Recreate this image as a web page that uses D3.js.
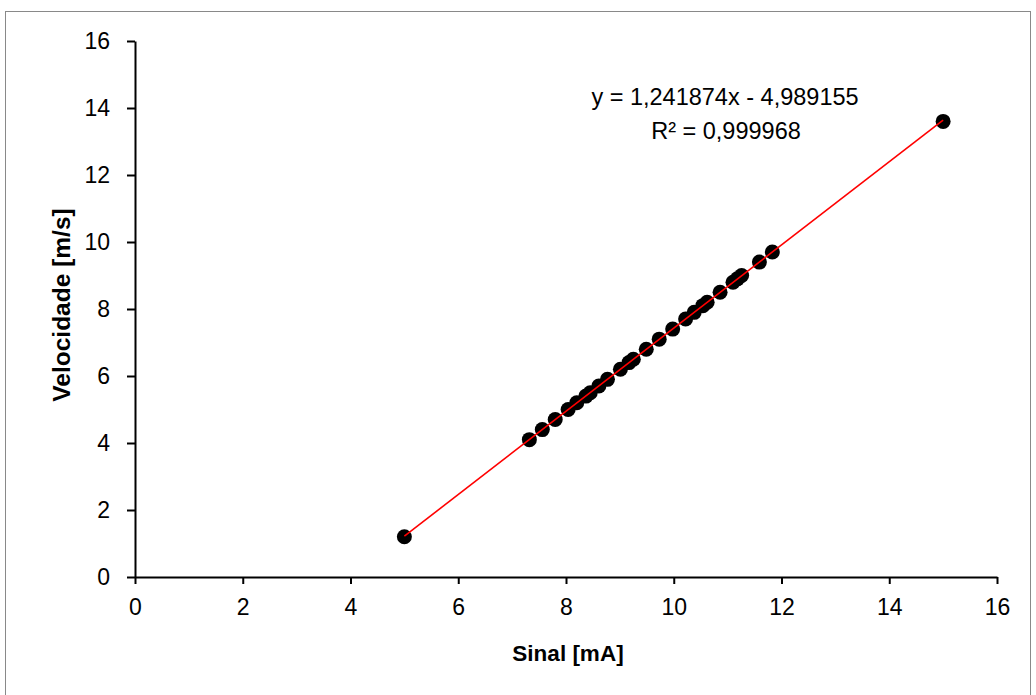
<!DOCTYPE html>
<html>
<head>
<meta charset="utf-8">
<script src="https://cdn.jsdelivr.net/npm/d3@7"></script>
<style>
  html, body { margin: 0; padding: 0; background: #fff; }
  svg { display: block; }
  text { font-family: "Liberation Sans", Arial, sans-serif; fill: #000; }
</style>
</head>
<body>
<svg id="chart" width="1036" height="695"></svg>
<script>
// ---- data ----
const sinal = [5.0, 7.32, 7.56, 7.80, 8.04, 8.20, 8.37, 8.45, 8.61, 8.77, 9.01, 9.17, 9.25, 9.49, 9.73, 9.98, 10.22, 10.38, 10.54, 10.62, 10.86, 11.10, 11.18, 11.26, 11.59, 11.83, 15.0];
const velocidade = [1.2, 4.1, 4.4, 4.7, 5.0, 5.2, 5.4, 5.5, 5.7, 5.9, 6.2, 6.4, 6.5, 6.8, 7.1, 7.4, 7.7, 7.9, 8.1, 8.2, 8.5, 8.8, 8.9, 9.0, 9.4, 9.7, 13.6];
const xTicks = [0, 2, 4, 6, 8, 10, 12, 14, 16];
const yTicks = [0, 2, 4, 6, 8, 10, 12, 14, 16];
const slope = 1.241874;
const intercept = -4.989155;
const equationLabel = "y = 1,241874x - 4,989155";
const r2Label = "R² = 0,999968";
const xTitle = "Sinal [mA]";
const yTitle = "Velocidade [m/s]";

// ---- layout ----
const svg = d3.select("#chart");
const plot = { left: 135, right: 997, top: 41, bottom: 577 };

svg.append("rect")
  .attr("x", 5.5).attr("y", 11.5)
  .attr("width", 1025).attr("height", 700)
  .attr("fill", "#fff").attr("stroke", "#898989").attr("stroke-width", 1);

const x = d3.scaleLinear().domain([0, 16]).range([plot.left, plot.right]);
const y = d3.scaleLinear().domain([0, 16]).range([plot.bottom, plot.top]);

// axes
const xAxis = svg.append("g")
  .attr("transform", `translate(0,${plot.bottom})`)
  .call(d3.axisBottom(x).tickValues(xTicks).tickFormat(d3.format("d")).tickSizeInner(7).tickSizeOuter(0).tickPadding(15));
const yAxis = svg.append("g")
  .attr("transform", `translate(${plot.left},0)`)
  .call(d3.axisLeft(y).tickValues(yTicks).tickFormat(d3.format("d")).tickSizeInner(8).tickSizeOuter(0).tickPadding(17));

[xAxis, yAxis].forEach(g => {
  g.select(".domain").attr("stroke", "#000").attr("stroke-width", 2);
  g.selectAll(".tick line").attr("stroke", "#000").attr("stroke-width", 2);
  g.selectAll(".tick text").attr("font-size", 23).attr("font-family", "Liberation Sans, Arial, sans-serif").attr("fill", "#000");
});

// markers
const pts = sinal.map((s, i) => ({ s, v: velocidade[i] }));
svg.append("g").selectAll("circle")
  .data(pts).enter().append("circle")
  .attr("cx", d => x(d.s))
  .attr("cy", d => y(d.v))
  .attr("r", 7.5)
  .attr("fill", "#000");

// trendline
const xMin = d3.min(sinal), xMax = d3.max(sinal);
svg.append("line")
  .attr("x1", x(xMin)).attr("y1", y(slope * xMin + intercept))
  .attr("x2", x(xMax)).attr("y2", y(slope * xMax + intercept))
  .attr("stroke", "#ff0000").attr("stroke-width", 1.6);

// equation labels
svg.append("text")
  .attr("x", 725).attr("y", 105)
  .attr("text-anchor", "middle").attr("font-size", 23.5)
  .text(equationLabel);
svg.append("text")
  .attr("x", 726).attr("y", 139)
  .attr("text-anchor", "middle").attr("font-size", 23.5)
  .text(r2Label);

// axis titles
svg.append("text")
  .attr("x", 568).attr("y", 661)
  .attr("text-anchor", "middle").attr("font-size", 22.5).attr("font-weight", "bold")
  .text(xTitle);
svg.append("text")
  .attr("transform", `translate(70,${(plot.top + plot.bottom) / 2 - 4}) rotate(-90)`)
  .attr("text-anchor", "middle").attr("font-size", 24.5).attr("font-weight", "bold")
  .text(yTitle);
</script>
</body>
</html>
